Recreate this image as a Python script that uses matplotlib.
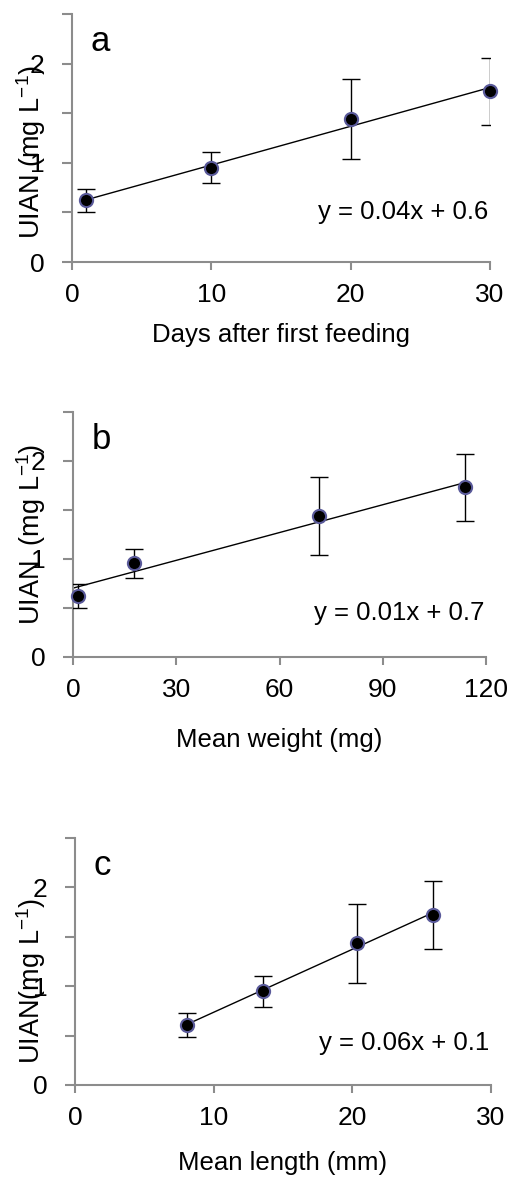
import numpy as np
import matplotlib
matplotlib.use("Agg")
import matplotlib.pyplot as plt

plt.rcParams['font.family'] = ['Liberation Sans', 'DejaVu Sans']
plt.rcParams['mathtext.fontset'] = 'custom'
plt.rcParams['mathtext.rm'] = 'Liberation Sans'

# Panel a: days after first feeding
days = [1, 10, 20, 30]
uian_a = [0.62, 0.95, 1.44, 1.72]
err_a = [0.12, 0.155, 0.40, 0.34]

# Panel b: mean weight (mg)
weight = [1.5, 17.7, 71.5, 114]
uian_b = [0.62, 0.956, 1.44, 1.73]
err_b = [0.125, 0.15, 0.40, 0.345]

# Panel c: mean length (mm)
length = [8.05, 13.56, 20.34, 25.8]
uian_c = [0.61, 0.948, 1.435, 1.72]
err_c = [0.123, 0.155, 0.40, 0.345]

letters = ['a', 'b', 'c']
xlabels = ['Days after first feeding', 'Mean weight (mg)', 'Mean length (mm)']
ylabels = [r'UIAN (mg L$^{\mathregular{-1}}$)', r'UIAN  (mg L$^{\mathregular{-1}}$)',
           r'UIAN(mg L$^{\mathregular{-1}}$)']
equations = ['y = 0.04x + 0.6', 'y = 0.01x + 0.7', 'y = 0.06x + 0.1']
xticks_list = [[0, 10, 20, 30], [0, 30, 60, 90, 120], [0, 10, 20, 30]]
xlims = [(0, 30), (0, 120), (0, 30)]
fit_ranges = [(1, 30), (0, 114), (8.05, 25.8)]

xs = [days, weight, length]
ys = [uian_a, uian_b, uian_c]
errs = [err_a, err_b, err_c]

W, H = 508, 1182
fig = plt.figure(figsize=(W / 100, H / 100), dpi=100)

# axes boxes in pixels: left, right, top, bottom
boxes = [(72, 490, 14, 262), (73, 486, 412, 657), (75, 491, 838, 1085)]
ylabel_pos = [(31, 152), (31, 534), (31, 981)]
xlabel_y = [335, 740, 1163]
eq_y = [0.20, 0.18, 0.17]

gray = '#8c8c8c'
for i in range(3):
    l, r, t, b = boxes[i]
    ax = fig.add_axes([l / W, 1 - b / H, (r - l) / W, (b - t) / H])
    ax.set_xlim(*xlims[i])
    ax.set_ylim(0, 2.5)
    for s in ['top', 'right']:
        ax.spines[s].set_visible(False)
    for s in ['left', 'bottom']:
        ax.spines[s].set_color(gray)
        ax.spines[s].set_linewidth(1.5)
    ax.set_xticks(xticks_list[i])
    ax.set_yticks([0, 0.5, 1, 1.5, 2, 2.5])
    ax.set_yticklabels(['0', '', '1', '', '2', ''])
    ax.tick_params(axis='both', direction='out', length=6, width=1.5, color=gray,
                   labelsize=19, pad=9)
    ax.tick_params(axis='y', length=7, pad=13)

    x = np.array(xs[i], dtype=float)
    y = np.array(ys[i], dtype=float)
    coef = np.polyfit(x, y, 1)
    fx = np.array(fit_ranges[i])
    ax.plot(fx, np.polyval(coef, fx), color='black', lw=1, zorder=2)
    ax.errorbar(x, y, yerr=errs[i], fmt='none', ecolor='black', elinewidth=1,
                capsize=6.5, capthick=1, zorder=3)
    ax.plot(x, y, 'o', color='black', markersize=9.5, markeredgecolor='#5a5a9a',
            markeredgewidth=1.5, zorder=4, clip_on=False)

    ax.text(0.045, 0.955, letters[i], transform=ax.transAxes, fontsize=25,
            ha='left', va='top')
    ax.text(0.995, eq_y[i], equations[i], transform=ax.transAxes, fontsize=18.5,
            ha='right', va='center')

    fig.text(ylabel_pos[i][0] / W, 1 - ylabel_pos[i][1] / H, ylabels[i],
             rotation=90, fontsize=19.5, ha='center', va='center')
    fig.text(((l + r) / 2) / W, 1 - xlabel_y[i] / H, xlabels[i], fontsize=18.5,
             ha='center', va='center')

fig.savefig('out.png', dpi=100)
